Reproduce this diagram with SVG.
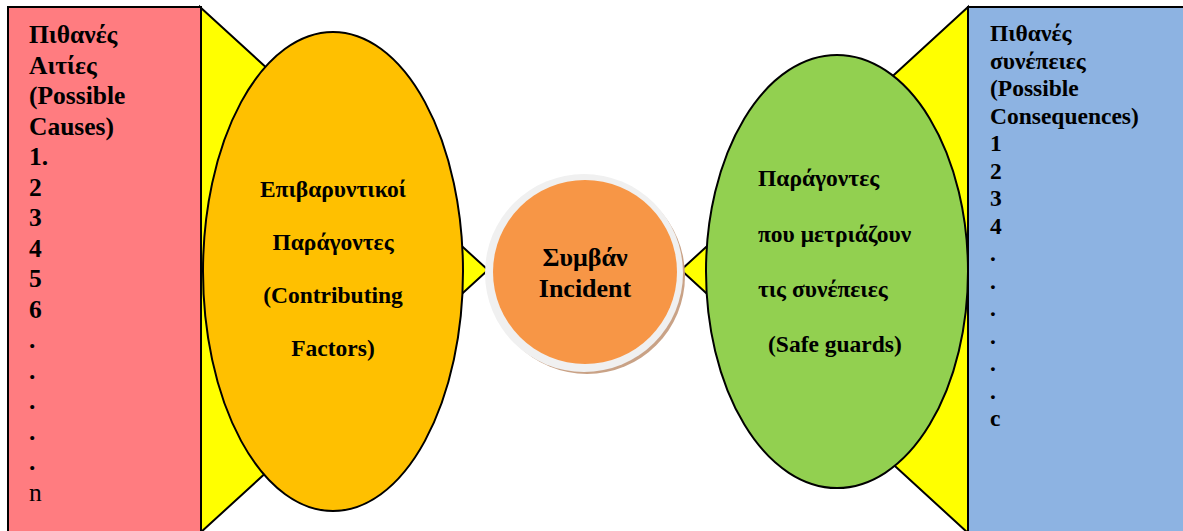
<svg xmlns="http://www.w3.org/2000/svg" width="1183" height="531" viewBox="0 0 1183 531">
  <style>
    .t { font-family: "Liberation Serif", "Times New Roman", serif; font-weight: bold; fill: #000; }
    .box { stroke: #000; stroke-width: 2; }
    .wedge { fill: #FFFF00; stroke: #000; stroke-width: 2; stroke-linejoin: miter; }
    .oval { stroke: #000; stroke-width: 2; }
    .l { font-size: 25.5px; }
    .r { font-size: 23.5px; }
    .m { font-size: 23.5px; }
    .c { font-size: 26px; }
  </style>
  <rect width="1183" height="531" fill="#fff"/>

  <!-- yellow wedges linking the side boxes to the incident -->
  <g id="connectors">
    <polygon class="wedge" points="200,7 488,270 200,533"/>
    <polygon class="wedge" points="968,7 681,270 968,533"/>
  </g>

  <g id="causes">
    <rect class="box" x="8" y="7" width="193" height="540" fill="#FF7C80"/>
    <g class="t l">
      <text x="29" y="43">Πιθανές</text>
      <text x="29" y="73.5">Αιτίες</text>
      <text x="29" y="104">(Possible</text>
      <text x="29" y="134.5">Causes)</text>
      <text x="29" y="165">1.</text>
      <text x="29" y="195.5">2</text>
      <text x="29" y="226">3</text>
      <text x="29" y="256.5">4</text>
      <text x="29" y="287">5</text>
      <text x="29" y="317.5">6</text>
      <text x="29" y="348">.</text>
      <text x="29" y="378.5">.</text>
      <text x="29" y="409">.</text>
      <text x="29" y="439.5">.</text>
      <text x="29" y="470">.</text>
      <text x="29" y="500.5" font-weight="normal">n</text>
    </g>
  </g>

  <g id="contributing-factors">
    <ellipse class="oval" cx="333" cy="271.5" rx="130" ry="239.5" fill="#FFC000"/>
    <g class="t m" text-anchor="middle">
      <text x="333" y="197">Επιβαρυντικοί</text>
      <text x="333" y="250">Παράγοντες</text>
      <text x="333" y="303">(Contributing</text>
      <text x="333" y="356">Factors)</text>
    </g>
  </g>

  <g id="incident">
    <circle cx="587" cy="276" r="98" fill="#C9A286"/>
    <circle cx="584" cy="273" r="99" fill="#F0F0F0"/>
    <circle cx="585" cy="272" r="92" fill="#F79646"/>
    <g class="t c" text-anchor="middle">
      <text x="585" y="266">Συμβάν</text>
      <text x="585" y="297">Incident</text>
    </g>
  </g>

  <g id="safeguards">
    <ellipse class="oval" cx="837" cy="271.5" rx="131" ry="216.5" fill="#92D050"/>
    <g class="t m">
      <text x="758" y="186">Παράγοντες</text>
      <text x="758" y="242">που μετριάζουν</text>
      <text x="758" y="297">τις συνέπειες</text>
      <text x="768" y="352">(Safe guards)</text>
    </g>
  </g>

  <g id="consequences">
    <rect class="box" x="968" y="7" width="230" height="540" fill="#8DB3E2"/>
    <g class="t r">
      <text x="990" y="41">Πιθανές</text>
      <text x="990" y="68.5">συνέπειες</text>
      <text x="990" y="96">(Possible</text>
      <text x="990" y="123.5">Consequences)</text>
      <text x="990" y="151">1</text>
      <text x="990" y="178.5">2</text>
      <text x="990" y="206">3</text>
      <text x="990" y="233.5">4</text>
      <text x="990" y="261">.</text>
      <text x="990" y="288.5">.</text>
      <text x="990" y="316">.</text>
      <text x="990" y="343.5">.</text>
      <text x="990" y="371">.</text>
      <text x="990" y="398.5">.</text>
      <text x="990" y="426">c</text>
    </g>
  </g>
</svg>
